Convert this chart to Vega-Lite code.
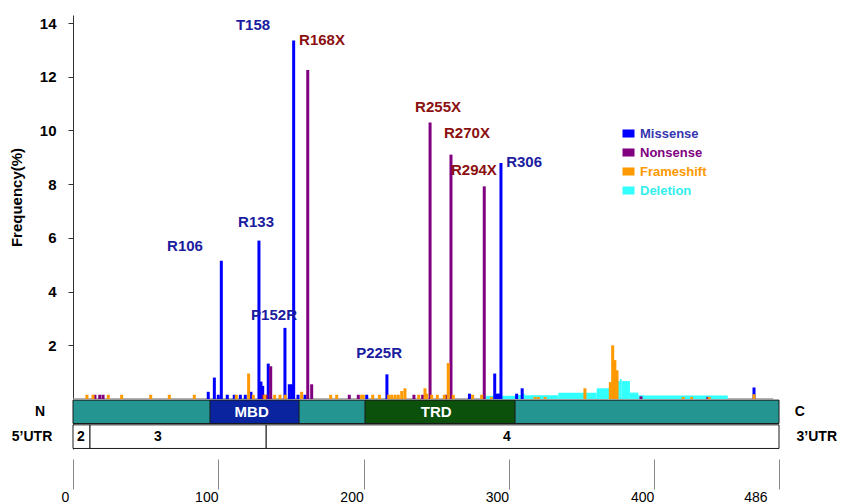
{
  "$schema": "https://vega.github.io/schema/vega-lite/v6.json",
  "width": 706,
  "height": 434,
  "autosize": {"type": "none"},
  "padding": {"left": 73, "top": 15, "right": 63, "bottom": 55},
  "background": "white",
  "config": {"view": {"stroke": null}, "font": "Liberation Sans"},
  "datasets": {
    "bars": [
      {"pos": 93.1, "freq": 0.27, "type": "Missense"},
      {"pos": 97.3, "freq": 0.8, "type": "Missense"},
      {"pos": 100.0, "freq": 0.16, "type": "Missense"},
      {"pos": 102.1, "freq": 5.15, "type": "Missense"},
      {"pos": 106.2, "freq": 0.16, "type": "Missense"},
      {"pos": 111.0, "freq": 0.16, "type": "Missense"},
      {"pos": 115.2, "freq": 0.16, "type": "Missense"},
      {"pos": 118.6, "freq": 0.16, "type": "Missense"},
      {"pos": 122.5, "freq": 0.27, "type": "Missense"},
      {"pos": 128.0, "freq": 5.9, "type": "Missense"},
      {"pos": 129.4, "freq": 0.65, "type": "Missense"},
      {"pos": 130.6, "freq": 0.49, "type": "Missense"},
      {"pos": 134.4, "freq": 1.32, "type": "Missense"},
      {"pos": 145.9, "freq": 2.65, "type": "Missense"},
      {"pos": 148.9, "freq": 0.55, "type": "Missense"},
      {"pos": 150.5, "freq": 0.55, "type": "Missense"},
      {"pos": 151.9, "freq": 13.35, "type": "Missense"},
      {"pos": 154.9, "freq": 0.16, "type": "Missense"},
      {"pos": 159.7, "freq": 0.16, "type": "Missense"},
      {"pos": 202.2, "freq": 0.16, "type": "Missense"},
      {"pos": 216.1, "freq": 0.92, "type": "Missense"},
      {"pos": 272.9, "freq": 0.2, "type": "Missense"},
      {"pos": 290.3, "freq": 0.95, "type": "Missense"},
      {"pos": 291.6, "freq": 0.2, "type": "Missense"},
      {"pos": 293.0, "freq": 0.2, "type": "Missense"},
      {"pos": 294.6, "freq": 8.79, "type": "Missense"},
      {"pos": 305.4, "freq": 0.2, "type": "Missense"},
      {"pos": 309.2, "freq": 0.4, "type": "Missense"},
      {"pos": 468.8, "freq": 0.43, "type": "Missense"},
      {"pos": 15.1, "freq": 0.16, "type": "Nonsense"},
      {"pos": 18.4, "freq": 0.16, "type": "Nonsense"},
      {"pos": 20.7, "freq": 0.16, "type": "Nonsense"},
      {"pos": 131.0, "freq": 0.16, "type": "Nonsense"},
      {"pos": 133.3, "freq": 0.16, "type": "Nonsense"},
      {"pos": 136.1, "freq": 1.22, "type": "Nonsense"},
      {"pos": 161.6, "freq": 12.25, "type": "Nonsense"},
      {"pos": 164.3, "freq": 0.55, "type": "Nonsense"},
      {"pos": 190.2, "freq": 0.16, "type": "Nonsense"},
      {"pos": 196.4, "freq": 0.16, "type": "Nonsense"},
      {"pos": 234.7, "freq": 0.16, "type": "Nonsense"},
      {"pos": 240.7, "freq": 0.16, "type": "Nonsense"},
      {"pos": 245.8, "freq": 10.3, "type": "Nonsense"},
      {"pos": 256.8, "freq": 0.16, "type": "Nonsense"},
      {"pos": 260.2, "freq": 9.1, "type": "Nonsense"},
      {"pos": 283.1, "freq": 7.92, "type": "Nonsense"},
      {"pos": 391.0, "freq": 0.1, "type": "Nonsense"},
      {"pos": 437.0, "freq": 0.08, "type": "Nonsense"},
      {"pos": 9.6, "freq": 0.16, "type": "Frameshift"},
      {"pos": 13.8, "freq": 0.16, "type": "Frameshift"},
      {"pos": 24.3, "freq": 0.16, "type": "Frameshift"},
      {"pos": 33.5, "freq": 0.16, "type": "Frameshift"},
      {"pos": 53.5, "freq": 0.16, "type": "Frameshift"},
      {"pos": 66.3, "freq": 0.16, "type": "Frameshift"},
      {"pos": 83.5, "freq": 0.16, "type": "Frameshift"},
      {"pos": 112.4, "freq": 0.16, "type": "Frameshift"},
      {"pos": 120.9, "freq": 0.95, "type": "Frameshift"},
      {"pos": 124.1, "freq": 0.16, "type": "Frameshift"},
      {"pos": 132.0, "freq": 0.16, "type": "Frameshift"},
      {"pos": 138.8, "freq": 0.16, "type": "Frameshift"},
      {"pos": 142.5, "freq": 0.16, "type": "Frameshift"},
      {"pos": 146.1, "freq": 0.16, "type": "Frameshift"},
      {"pos": 157.4, "freq": 0.27, "type": "Frameshift"},
      {"pos": 177.4, "freq": 0.16, "type": "Frameshift"},
      {"pos": 181.5, "freq": 0.16, "type": "Frameshift"},
      {"pos": 198.7, "freq": 0.16, "type": "Frameshift"},
      {"pos": 199.8, "freq": 0.16, "type": "Frameshift"},
      {"pos": 206.3, "freq": 0.16, "type": "Frameshift"},
      {"pos": 210.9, "freq": 0.16, "type": "Frameshift"},
      {"pos": 217.3, "freq": 0.16, "type": "Frameshift"},
      {"pos": 219.4, "freq": 0.16, "type": "Frameshift"},
      {"pos": 221.7, "freq": 0.16, "type": "Frameshift"},
      {"pos": 223.9, "freq": 0.16, "type": "Frameshift"},
      {"pos": 226.3, "freq": 0.3, "type": "Frameshift"},
      {"pos": 228.5, "freq": 0.4, "type": "Frameshift"},
      {"pos": 238.0, "freq": 0.16, "type": "Frameshift"},
      {"pos": 242.3, "freq": 0.4, "type": "Frameshift"},
      {"pos": 243.5, "freq": 0.2, "type": "Frameshift"},
      {"pos": 246.9, "freq": 0.16, "type": "Frameshift"},
      {"pos": 250.8, "freq": 0.16, "type": "Frameshift"},
      {"pos": 255.6, "freq": 0.16, "type": "Frameshift"},
      {"pos": 258.3, "freq": 1.34, "type": "Frameshift"},
      {"pos": 261.8, "freq": 0.16, "type": "Frameshift"},
      {"pos": 275.1, "freq": 0.16, "type": "Frameshift"},
      {"pos": 281.3, "freq": 0.16, "type": "Frameshift"},
      {"pos": 288.0, "freq": 0.08, "type": "Frameshift"},
      {"pos": 318.0, "freq": 0.08, "type": "Frameshift"},
      {"pos": 320.3, "freq": 0.08, "type": "Frameshift"},
      {"pos": 325.0, "freq": 0.08, "type": "Frameshift"},
      {"pos": 352.4, "freq": 0.4, "type": "Frameshift"},
      {"pos": 369.9, "freq": 0.63, "type": "Frameshift"},
      {"pos": 371.5, "freq": 2.0, "type": "Frameshift"},
      {"pos": 373.0, "freq": 1.45, "type": "Frameshift"},
      {"pos": 374.5, "freq": 1.07, "type": "Frameshift"},
      {"pos": 420.1, "freq": 0.08, "type": "Frameshift"},
      {"pos": 425.9, "freq": 0.08, "type": "Frameshift"},
      {"pos": 438.0, "freq": 0.08, "type": "Frameshift"},
      {"pos": 468.8, "freq": 0.18, "type": "Frameshift"}
    ],
    "deletion": [
      {"start": 284.1, "end": 304.3, "freq": 0.12, "type": "Deletion"},
      {"start": 304.3, "end": 309.0, "freq": 0.15, "type": "Deletion"},
      {"start": 309.0, "end": 311.0, "freq": 0.2, "type": "Deletion"},
      {"start": 311.0, "end": 334.1, "freq": 0.14, "type": "Deletion"},
      {"start": 334.1, "end": 360.5, "freq": 0.23, "type": "Deletion"},
      {"start": 360.5, "end": 374.3, "freq": 0.4, "type": "Deletion"},
      {"start": 374.3, "end": 376.5, "freq": 0.67, "type": "Deletion"},
      {"start": 376.5, "end": 377.7, "freq": 0.75, "type": "Deletion"},
      {"start": 377.7, "end": 383.4, "freq": 0.67, "type": "Deletion"},
      {"start": 383.4, "end": 389.1, "freq": 0.24, "type": "Deletion"},
      {"start": 389.1, "end": 393.8, "freq": 0.14, "type": "Deletion"},
      {"start": 393.8, "end": 450.7, "freq": 0.13, "type": "Deletion"}
    ],
    "labels": [
      {"label": "T158", "x": 123.9, "y": 13.92, "kind": "missense"},
      {"label": "R168X", "x": 171.4, "y": 13.37, "kind": "nonsense"},
      {"label": "R255X", "x": 251.3, "y": 10.87, "kind": "nonsense"},
      {"label": "R270X", "x": 271.2, "y": 9.9, "kind": "nonsense"},
      {"label": "R294X", "x": 276.0, "y": 8.53, "kind": "nonsense"},
      {"label": "R306", "x": 310.5, "y": 8.82, "kind": "missense"},
      {"label": "R133", "x": 126.0, "y": 6.59, "kind": "missense"},
      {"label": "R106", "x": 77.1, "y": 5.7, "kind": "missense"},
      {"label": "P152R", "x": 138.4, "y": 3.13, "kind": "missense"},
      {"label": "P225R", "x": 210.7, "y": 1.71, "kind": "missense"}
    ],
    "regions": [
      {"region": "Protein", "start": 0, "end": 486},
      {"region": "MBD", "start": 94.3, "end": 155.6},
      {"region": "TRD", "start": 201.0, "end": 304.3}
    ],
    "regionText": [
      {"text": "MBD", "x": 123},
      {"text": "TRD", "x": 250}
    ],
    "exons": [
      {"exon": "2", "start": 0, "end": 11.7, "labelx": 5.5},
      {"exon": "3", "start": 11.7, "end": 133, "labelx": 58.5},
      {"exon": "4", "start": 133, "end": 486, "labelx": 298.7}
    ],
    "sideRow1": [
      {"text": "N", "x": -22.7},
      {"text": "C", "x": 500.4}
    ],
    "sideRow2": [
      {"text": "5’UTR", "x": -28.2},
      {"text": "3’UTR", "x": 512}
    ]
  },
  "layer": [
    {
      "data": {"name": "regions"},
      "mark": {"type": "rect", "stroke": "#1a1a1a", "strokeWidth": 1},
      "encoding": {
        "x": {"field": "start", "type": "quantitative", "scale": {"domain": [0, 486], "nice": false, "zero": false, "padding": 0},
          "axis": {"values": [0, 100, 200, 300, 400, 486], "orient": "bottom", "offset": 10, "tickSize": 30, "tickColor": "#888888", "tickWidth": 1, "domain": false, "grid": false, "labelFontSize": 14, "labelFontWeight": "normal", "labelColor": "#000000", "labelPadding": 1, "labelOffset": -12, "title": null}},
        "x2": {"field": "end"},
        "y": {"datum": -0.04, "type": "quantitative"},
        "y2": {"datum": -0.91},
        "fill": {"field": "region", "type": "nominal", "scale": {"domain": ["Protein", "MBD", "TRD"], "range": ["#249590", "#0a24a0", "#0b500b"]}, "legend": null}
      }
    },
    {
      "data": {"name": "exons"},
      "mark": {"type": "rect", "fill": "white", "stroke": "#1a1a1a", "strokeWidth": 1},
      "encoding": {
        "x": {"field": "start", "type": "quantitative"},
        "x2": {"field": "end"},
        "y": {"datum": -0.96, "type": "quantitative"},
        "y2": {"datum": -1.84}
      }
    },
    {
      "data": {"name": "exons"},
      "mark": {"type": "text", "fontSize": 14, "fontWeight": "bold", "color": "#000000", "baseline": "middle", "align": "center"},
      "encoding": {
        "x": {"field": "labelx", "type": "quantitative"},
        "y": {"datum": -1.4, "type": "quantitative"},
        "text": {"field": "exon"}
      }
    },
    {
      "data": {"name": "regionText"},
      "mark": {"type": "text", "fontSize": 15, "fontWeight": "bold", "color": "#ffffff", "baseline": "middle", "align": "center"},
      "encoding": {
        "x": {"field": "x", "type": "quantitative"},
        "y": {"datum": -0.47, "type": "quantitative"},
        "text": {"field": "text"}
      }
    },
    {
      "data": {"name": "sideRow1"},
      "mark": {"type": "text", "fontSize": 14, "fontWeight": "bold", "color": "#000000", "baseline": "middle", "align": "center"},
      "encoding": {
        "x": {"field": "x", "type": "quantitative"},
        "y": {"datum": -0.47, "type": "quantitative"},
        "text": {"field": "text"}
      }
    },
    {
      "data": {"name": "sideRow2"},
      "mark": {"type": "text", "fontSize": 14, "fontWeight": "bold", "color": "#000000", "baseline": "middle", "align": "center"},
      "encoding": {
        "x": {"field": "x", "type": "quantitative"},
        "y": {"datum": -1.4, "type": "quantitative"},
        "text": {"field": "text"}
      }
    },
    {
      "data": {"values": [{}]},
      "mark": {"type": "rule", "color": "#999999", "strokeWidth": 1.5},
      "encoding": {
        "x": {"datum": 0, "type": "quantitative"},
        "x2": {"datum": 482},
        "y": {"datum": 0, "type": "quantitative"}
      }
    },
    {
      "data": {"name": "deletion"},
      "mark": {"type": "rect"},
      "encoding": {
        "x": {"field": "start", "type": "quantitative"},
        "x2": {"field": "end"},
        "y": {"field": "freq", "type": "quantitative"},
        "y2": {"datum": 0},
        "color": {"field": "type", "type": "nominal"}
      }
    },
    {
      "data": {"name": "bars"},
      "mark": {"type": "bar", "size": 3, "orient": "vertical"},
      "encoding": {
        "x": {"field": "pos", "type": "quantitative"},
        "y": {"field": "freq", "type": "quantitative", "stack": null,
          "scale": {"domain": [-1.86, 14.3], "nice": false, "zero": false, "padding": 0},
          "axis": {"values": [2, 4, 6, 8, 10, 12, 14], "tickSize": 5, "tickColor": "#333333", "domainColor": "#333333", "grid": false, "labelFontSize": 15, "labelFontWeight": "bold", "labelColor": "#000000", "labelPadding": 12, "title": "Frequency(%)", "titleFontSize": 15, "titleFontWeight": "bold", "titleColor": "#000000", "titleX": -49, "titleY": 182, "titleAngle": 270, "titleAlign": "center", "titleBaseline": "bottom"}},
        "color": {"field": "type", "type": "nominal",
          "scale": {"domain": ["Missense", "Nonsense", "Frameshift", "Deletion"], "range": ["#0000ff", "#800080", "#ff9900", "#33ffff"]},
          "legend": {"orient": "none", "legendX": 549, "legendY": 112, "title": null, "padding": 0, "symbolType": "M-1,-0.67H1V0.67H-1Z", "symbolSize": 144, "symbolStrokeWidth": 0, "symbolOpacity": 1, "labelFontSize": 13, "labelFontWeight": "bold", "labelOffset": 5, "rowPadding": 5,
            "labelColor": {"expr": "datum.label == 'Missense' ? '#3535b0' : datum.label == 'Nonsense' ? '#800080' : datum.label == 'Frameshift' ? '#ff9900' : '#33eeee'"}}}
      }
    },
    {
      "data": {"name": "labels"},
      "transform": [{"filter": "datum.kind == 'missense'"}],
      "mark": {"type": "text", "fontSize": 15, "fontWeight": "bold", "color": "#1c1ca0", "baseline": "middle", "align": "center"},
      "encoding": {
        "x": {"field": "x", "type": "quantitative"},
        "y": {"field": "y", "type": "quantitative"},
        "text": {"field": "label"}
      }
    },
    {
      "data": {"name": "labels"},
      "transform": [{"filter": "datum.kind == 'nonsense'"}],
      "mark": {"type": "text", "fontSize": 15, "fontWeight": "bold", "color": "#8b1010", "baseline": "middle", "align": "center"},
      "encoding": {
        "x": {"field": "x", "type": "quantitative"},
        "y": {"field": "y", "type": "quantitative"},
        "text": {"field": "label"}
      }
    }
  ]
}
